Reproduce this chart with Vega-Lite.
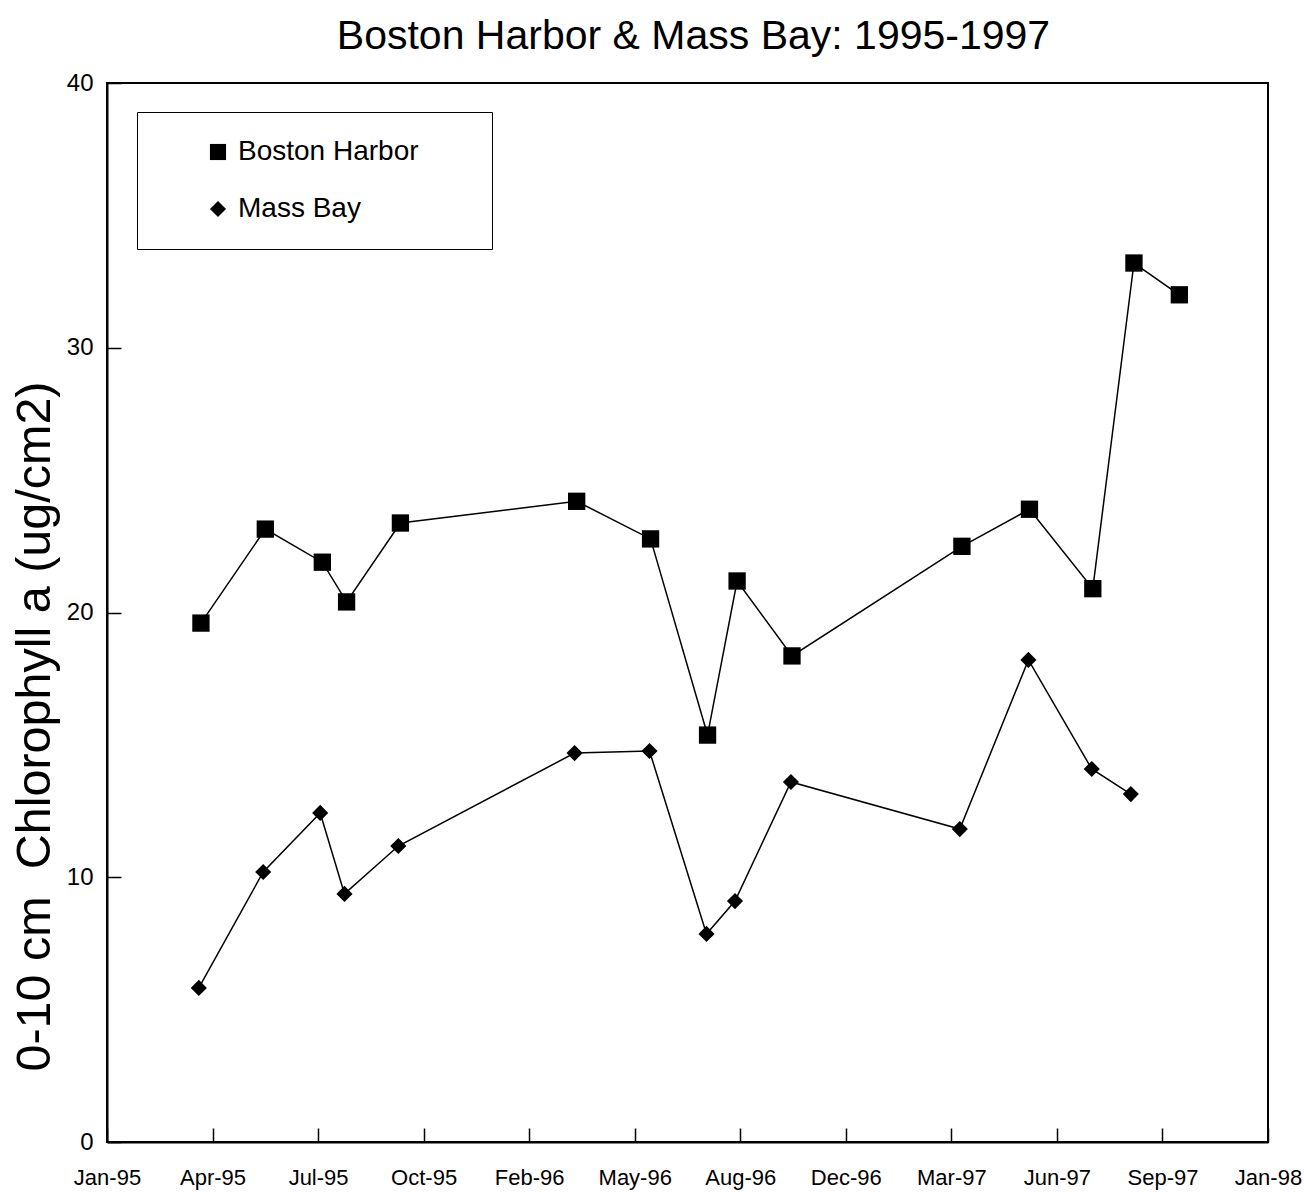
{
  "$schema": "https://vega.github.io/schema/vega-lite/v6.json",
  "width": 1161,
  "height": 1059,
  "autosize": {"type": "none"},
  "padding": {"left": 107, "top": 83, "right": 36, "bottom": 50},
  "background": "white",
  "title": {
    "text": "Boston Harbor & Mass Bay: 1995-1997",
    "font": "Liberation Sans",
    "fontSize": 41,
    "fontWeight": "normal",
    "color": "black",
    "anchor": "middle",
    "offset": 13,
    "dx": 6
  },
  "config": {
    "view": {"stroke": "black", "strokeWidth": 2},
    "axis": {
      "domainColor": "black",
      "domainWidth": 2,
      "tickColor": "black",
      "tickWidth": 1.5,
      "tickSize": -14,
      "labelColor": "black",
      "labelFont": "Liberation Sans",
      "grid": false,
      "titleColor": "black",
      "titleFont": "Liberation Sans",
      "titleFontWeight": "normal"
    }
  },
  "data": {
    "values": [
      {"site": "Boston Harbor", "date": "1995-03-31T00:00:00", "value": 19.6},
      {"site": "Boston Harbor", "date": "1995-05-31T00:00:00", "value": 23.15},
      {"site": "Boston Harbor", "date": "1995-07-24T00:00:00", "value": 21.9},
      {"site": "Boston Harbor", "date": "1995-08-16T00:00:00", "value": 20.4},
      {"site": "Boston Harbor", "date": "1995-10-06T00:00:00", "value": 23.38},
      {"site": "Boston Harbor", "date": "1996-03-21T00:00:00", "value": 24.2},
      {"site": "Boston Harbor", "date": "1996-05-30T00:00:00", "value": 22.78},
      {"site": "Boston Harbor", "date": "1996-07-23T00:00:00", "value": 15.37},
      {"site": "Boston Harbor", "date": "1996-08-20T00:00:00", "value": 21.19},
      {"site": "Boston Harbor", "date": "1996-10-11T00:00:00", "value": 18.36},
      {"site": "Boston Harbor", "date": "1997-03-21T00:00:00", "value": 22.5},
      {"site": "Boston Harbor", "date": "1997-05-24T00:00:00", "value": 23.9},
      {"site": "Boston Harbor", "date": "1997-07-23T00:00:00", "value": 20.9},
      {"site": "Boston Harbor", "date": "1997-08-31T00:00:00", "value": 33.2},
      {"site": "Boston Harbor", "date": "1997-10-13T00:00:00", "value": 32.0},
      {"site": "Mass Bay", "date": "1995-03-29T00:00:00", "value": 5.82},
      {"site": "Mass Bay", "date": "1995-05-29T00:00:00", "value": 10.2},
      {"site": "Mass Bay", "date": "1995-07-22T00:00:00", "value": 12.43},
      {"site": "Mass Bay", "date": "1995-08-14T00:00:00", "value": 9.37},
      {"site": "Mass Bay", "date": "1995-10-04T00:00:00", "value": 11.18},
      {"site": "Mass Bay", "date": "1996-03-19T00:00:00", "value": 14.69},
      {"site": "Mass Bay", "date": "1996-05-29T00:00:00", "value": 14.77},
      {"site": "Mass Bay", "date": "1996-07-22T00:00:00", "value": 7.86},
      {"site": "Mass Bay", "date": "1996-08-18T00:00:00", "value": 9.1},
      {"site": "Mass Bay", "date": "1996-10-10T00:00:00", "value": 13.6},
      {"site": "Mass Bay", "date": "1997-03-19T00:00:00", "value": 11.82},
      {"site": "Mass Bay", "date": "1997-05-23T00:00:00", "value": 18.21},
      {"site": "Mass Bay", "date": "1997-07-22T00:00:00", "value": 14.09},
      {"site": "Mass Bay", "date": "1997-08-28T00:00:00", "value": 13.14}
    ]
  },
  "encoding": {
    "x": {
      "field": "date",
      "type": "temporal",
      "scale": {"domain": [{"year": 1995, "month": 1, "date": 1}, {"year": 1998, "month": 1, "date": 5}]},
      "axis": {
        "title": null,
        "format": "%b-%y",
        "labelFontSize": 22,
        "labelPadding": 39,
        "labelFlush": false,
        "labelOverlap": false,
        "values": [
          {"year": 1995, "month": 1, "date": 1},
          {"year": 1995, "month": 4, "date": 11},
          {"year": 1995, "month": 7, "date": 20},
          {"year": 1995, "month": 10, "date": 28},
          {"year": 1996, "month": 2, "date": 5},
          {"year": 1996, "month": 5, "date": 15},
          {"year": 1996, "month": 8, "date": 23},
          {"year": 1996, "month": 12, "date": 1},
          {"year": 1997, "month": 3, "date": 11},
          {"year": 1997, "month": 6, "date": 19},
          {"year": 1997, "month": 9, "date": 27},
          {"year": 1998, "month": 1, "date": 5}
        ]
      }
    },
    "y": {
      "field": "value",
      "type": "quantitative",
      "scale": {"domain": [0, 40]},
      "axis": {
        "title": "0-10 cm\u00a0\u00a0Chlorophyll a (ug/cm2)",
        "titleFontSize": 48.5,
        "titlePadding": 7,
        "titleY": 643,
        "values": [0, 10, 20, 30, 40],
        "labelFontSize": 24,
        "labelPadding": 28
      }
    }
  },
  "layer": [
    {
      "mark": {"type": "line", "color": "black", "strokeWidth": 1.5},
      "encoding": {"detail": {"field": "site", "type": "nominal"}}
    },
    {
      "mark": {"type": "point", "filled": true, "color": "black", "opacity": 1},
      "encoding": {
        "shape": {
          "field": "site",
          "type": "nominal",
          "scale": {"domain": ["Boston Harbor", "Mass Bay"], "range": ["square", "diamond"]},
          "legend": {
            "title": null,
            "orient": "none",
            "legendX": 30,
            "legendY": 29,
            "strokeColor": "black",
            "fillColor": "white",
            "padding": 26,
            "symbolOffset": 41,
            "labelOffset": 6,
            "labelFontSize": 28,
            "labelLimit": 500,
            "labelFont": "Liberation Sans",
            "labelColor": "black",
            "symbolSize": 260,
            "symbolFillColor": "black",
            "symbolStrokeWidth": 0,
            "rowPadding": 29,
            "labelExpr": "datum.label + '\u00a0\u00a0\u00a0\u00a0\u00a0\u00a0\u200b'"
          }
        },
        "size": {
          "condition": {"test": "datum.site === 'Boston Harbor'", "value": 300},
          "value": 260
        }
      }
    }
  ]
}
